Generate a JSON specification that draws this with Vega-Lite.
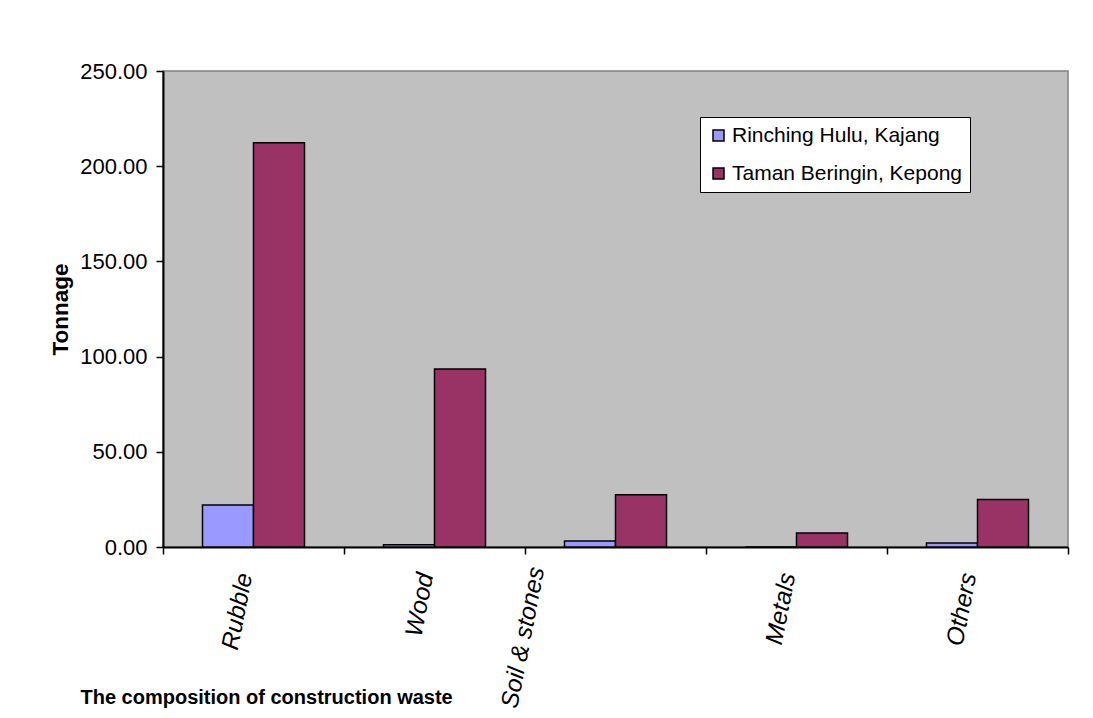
{
  "$schema": "https://vega.github.io/schema/vega-lite/v6.json",
  "width": 905,
  "height": 476,
  "autosize": {"type": "none"},
  "padding": {"left": 163, "top": 71, "right": 25, "bottom": 171},
  "background": "white",
  "data": {
    "values": [
      {"category": "Rubble", "site": "Rinching Hulu, Kajang", "tonnage": 22.0},
      {"category": "Rubble", "site": "Taman Beringin, Kepong", "tonnage": 212.3},
      {"category": "Wood", "site": "Rinching Hulu, Kajang", "tonnage": 1.2},
      {"category": "Wood", "site": "Taman Beringin, Kepong", "tonnage": 93.5},
      {"category": "Soil & stones", "site": "Rinching Hulu, Kajang", "tonnage": 3.2},
      {"category": "Soil & stones", "site": "Taman Beringin, Kepong", "tonnage": 27.5},
      {"category": "Metals", "site": "Rinching Hulu, Kajang", "tonnage": 0},
      {"category": "Metals", "site": "Taman Beringin, Kepong", "tonnage": 7.4},
      {"category": "Others", "site": "Rinching Hulu, Kajang", "tonnage": 2.1},
      {"category": "Others", "site": "Taman Beringin, Kepong", "tonnage": 25.0}
    ]
  },
  "mark": {"type": "bar", "stroke": "black", "strokeWidth": 1.5},
  "encoding": {
    "x": {
      "field": "category",
      "type": "nominal",
      "sort": ["Rubble", "Wood", "Soil & stones", "Metals", "Others"],
      "scale": {"paddingInner": 0, "paddingOuter": 0},
      "axis": {
        "title": "The composition of construction waste",
        "titleFont": "Liberation Sans",
        "titleFontSize": 20,
        "titleFontWeight": "bold",
        "titleColor": "black",
        "titleAnchor": "start",
        "titleAlign": "left",
        "titleBaseline": "alphabetic",
        "titleX": -83,
        "titleY": 156,
        "labelFont": "Liberation Sans",
        "labelFontSize": 24.5,
        "labelFontStyle": "italic",
        "labelColor": "black",
        "labelAngle": -79,
        "labelAlign": "right",
        "labelBaseline": "middle",
        "labelPadding": {"condition": {"test": "datum.label == 'Soil & stones'", "value": 13}, "value": 19},
        "labelOffset": {"condition": {"test": "datum.label == 'Soil & stones'", "value": -78}, "value": -8},
        "labelLimit": 300,
        "bandPosition": 1,
        "tickExtra": true,
        "tickSize": 7,
        "tickColor": "black",
        "tickWidth": 1.5,
        "domainColor": "black",
        "domainWidth": 2,
        "grid": false
      }
    },
    "xOffset": {
      "field": "site",
      "type": "nominal",
      "sort": ["Rinching Hulu, Kajang", "Taman Beringin, Kepong"],
      "scale": {"paddingInner": 0, "paddingOuter": 0.7745}
    },
    "y": {
      "field": "tonnage",
      "type": "quantitative",
      "scale": {"domain": [0, 250], "nice": false},
      "axis": {
        "title": "Tonnage",
        "titleFont": "Liberation Sans",
        "titleFontSize": 22.5,
        "titleFontWeight": "bold",
        "titleColor": "black",
        "titlePadding": 7,
        "values": [0, 50, 100, 150, 200, 250],
        "format": ".2f",
        "labelFont": "Liberation Sans",
        "labelFontSize": 22,
        "labelColor": "black",
        "labelPadding": 9,
        "tickSize": 7,
        "tickColor": "black",
        "tickWidth": 1.5,
        "domainColor": "black",
        "domainWidth": 2,
        "grid": false
      }
    },
    "color": {
      "field": "site",
      "type": "nominal",
      "sort": ["Rinching Hulu, Kajang", "Taman Beringin, Kepong"],
      "scale": {"range": ["#9999FF", "#993366"]},
      "legend": {
        "title": null,
        "orient": "none",
        "legendX": 537,
        "legendY": 46,
        "fillColor": "white",
        "strokeColor": "black",
        "padding": 8,
        "rowPadding": 16,
        "symbolType": "square",
        "symbolSize": 121,
        "symbolStrokeColor": "black",
        "symbolStrokeWidth": 1.5,
        "labelFont": "Liberation Sans",
        "labelFontSize": 21,
        "labelColor": "black",
        "labelOffset": 3,
        "labelLimit": 400
      }
    }
  },
  "config": {
    "view": {"fill": "#C0C0C0", "stroke": "#808080", "strokeWidth": 1.5}
  }
}
